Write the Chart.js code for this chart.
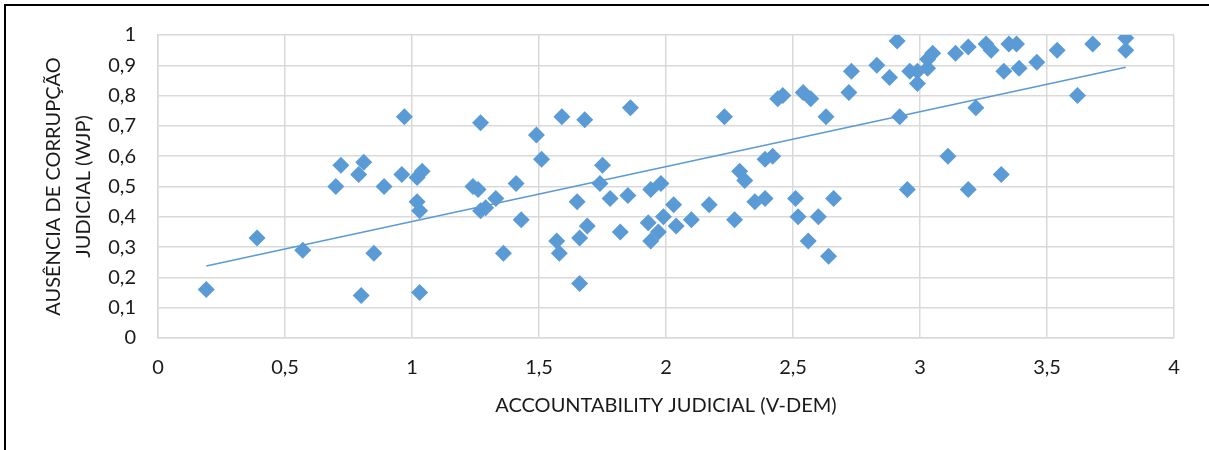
<!DOCTYPE html>
<html>
<head>
<meta charset="utf-8">
<script src="https://cdn.jsdelivr.net/npm/chart.js@4.4.1/dist/chart.umd.min.js"></script>
<style>
  html, body { margin: 0; padding: 0; background: #ffffff; overflow: hidden; }
  #wrap { position: relative; width: 1209px; height: 450px; }
  #frame { position: absolute; left: 4px; top: 4px; width: 1400px; height: 700px; border: 2px solid #000; box-sizing: border-box; }
  #c { position: absolute; left: 0; top: 0; }
</style>
</head>
<body>
<div id="wrap">
  <div id="frame"></div>
  <canvas id="c" width="1209" height="450"></canvas>
</div>
<script>
// Accountability judicial (V-DEM) — x values
const accountabilityX = [
  0.19, 0.39, 0.57, 0.70, 0.72, 0.79, 0.81, 0.85, 0.89, 0.96,
  0.97, 1.02, 1.04, 1.02, 1.03, 0.80, 1.03, 1.27, 1.24, 1.26,
  1.27, 1.29, 1.33, 1.36, 1.41, 1.43, 1.49, 1.51, 1.59, 1.57,
  1.58, 1.65, 1.66, 1.69, 1.66, 1.68, 1.75, 1.74, 1.78, 1.82,
  1.85, 1.86, 1.93, 1.94, 1.94, 1.97, 1.98, 1.99, 2.03, 2.04,
  2.10, 2.17, 2.23, 2.27, 2.29, 2.31, 2.35, 2.39, 2.39, 2.42,
  2.44, 2.46, 2.51, 2.52, 2.54, 2.57, 2.56, 2.60, 2.63, 2.64,
  2.66, 2.72, 2.73, 2.83, 2.88, 2.91, 2.92, 2.95, 2.96, 2.99,
  2.99, 3.03, 3.03, 3.05, 3.11, 3.14, 3.19, 3.19, 3.22, 3.26,
  3.28, 3.32, 3.33, 3.35, 3.38, 3.39, 3.46, 3.54, 3.62, 3.68,
  3.81, 3.81
];
// Ausência de corrupção judicial (WJP) — y values
const corruptionY = [
  0.16, 0.33, 0.29, 0.50, 0.57, 0.54, 0.58, 0.28, 0.50, 0.54,
  0.73, 0.53, 0.55, 0.45, 0.42, 0.14, 0.15, 0.71, 0.50, 0.49,
  0.42, 0.43, 0.46, 0.28, 0.51, 0.39, 0.67, 0.59, 0.73, 0.32,
  0.28, 0.45, 0.33, 0.37, 0.18, 0.72, 0.57, 0.51, 0.46, 0.35,
  0.47, 0.76, 0.38, 0.49, 0.32, 0.35, 0.51, 0.40, 0.44, 0.37,
  0.39, 0.44, 0.73, 0.39, 0.55, 0.52, 0.45, 0.46, 0.59, 0.60,
  0.79, 0.80, 0.46, 0.40, 0.81, 0.79, 0.32, 0.40, 0.73, 0.27,
  0.46, 0.81, 0.88, 0.90, 0.86, 0.98, 0.73, 0.49, 0.88, 0.88,
  0.84, 0.89, 0.92, 0.94, 0.60, 0.94, 0.96, 0.49, 0.76, 0.97,
  0.95, 0.54, 0.88, 0.97, 0.97, 0.89, 0.91, 0.95, 0.80, 0.97,
  0.99, 0.95
];
const xAxisTitle = 'ACCOUNTABILITY JUDICIAL (V-DEM)';
const yAxisTitle = ['AUSÊNCIA DE CORRUPÇÃO', 'JUDICIAL (WJP)'];

const points = accountabilityX.map((x, i) => ({ x: x, y: corruptionY[i] }));

// Linear trendline (least squares) over the data
const n = accountabilityX.length;
let sx = 0, sy = 0, sxx = 0, sxy = 0;
for (let i = 0; i < n; i++) {
  sx += accountabilityX[i]; sy += corruptionY[i];
  sxx += accountabilityX[i] * accountabilityX[i];
  sxy += accountabilityX[i] * corruptionY[i];
}
const slope = (n * sxy - sx * sy) / (n * sxx - sx * sx);
const intercept = (sy - slope * sx) / n;
const xMin = Math.min(...accountabilityX), xMax = Math.max(...accountabilityX);
const trend = [
  { x: xMin, y: intercept + slope * xMin },
  { x: xMax, y: intercept + slope * xMax }
];

const blue = '#5B9BD5';
const gridColor = '#D9D9D9';
const textColor = '#1a1a1a';
const fmt = v => (Math.round(v * 10) / 10).toString().replace('.', ',');

new Chart(document.getElementById('c'), {
  type: 'scatter',
  data: {
    datasets: [
      {
        data: points,
        pointStyle: 'rectRot',
        pointRadius: 8.5,
        pointHoverRadius: 8.5,
        backgroundColor: blue,
        borderColor: blue,
        borderWidth: 0,
        order: 2
      },
      {
        type: 'line',
        data: trend,
        borderColor: blue,
        borderWidth: 1.5,
        pointRadius: 0,
        fill: false,
        order: 1
      }
    ]
  },
  options: {
    responsive: false,
    animation: false,
    events: [],
    layout: { padding: { left: 0, top: 35, right: 35, bottom: 0 } },
    plugins: { legend: { display: false }, tooltip: { enabled: false } },
    scales: {
      x: {
        type: 'linear',
        min: 0, max: 4,
        afterFit: s => { s.height = 112; },
        grid: { color: gridColor, lineWidth: 1.5, drawTicks: false },
        border: { color: gridColor, width: 1.5 },
        ticks: {
          stepSize: 0.5,
          padding: 18,
          color: textColor,
          font: { family: 'Lato', size: 20 },
          callback: v => fmt(v)
        },
        title: {
          display: true,
          text: xAxisTitle,
          color: textColor,
          font: { family: 'Lato', size: 20, lineHeight: 1.2 },
          padding: { top: 0, bottom: 32 }
        }
      },
      y: {
        type: 'linear',
        min: 0, max: 1,
        afterFit: s => { s.width = 158; },
        grid: { color: gridColor, lineWidth: 1.5, drawTicks: false },
        border: { color: gridColor, width: 1.5 },
        ticks: {
          stepSize: 0.1,
          padding: 22,
          color: textColor,
          font: { family: 'Lato', size: 20 },
          callback: v => fmt(v)
        },
        title: {
          display: true,
          text: yAxisTitle,
          color: textColor,
          font: { family: 'Lato', size: 20, lineHeight: 1.5 },
          padding: { top: 39, bottom: 0 }
        }
      }
    }
  }
});
</script>
</body>
</html>
